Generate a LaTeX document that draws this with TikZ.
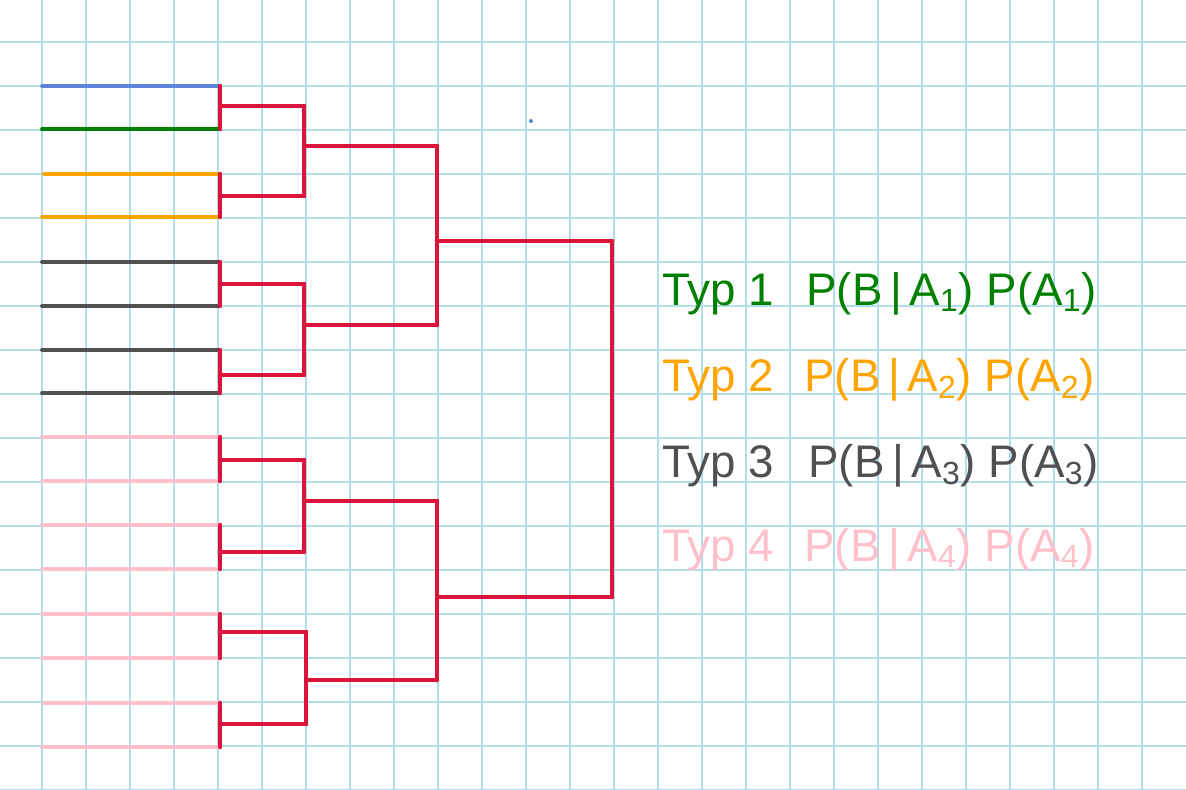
\documentclass[tikz,border=0pt]{standalone}
\usepackage{fontspec}
\setmainfont{Liberation Sans}
\definecolor{gridblue}{RGB}{178,222,236}
\definecolor{startblue}{RGB}{91,133,214}
\definecolor{typgreen}{RGB}{0,128,0}
\definecolor{typorange}{RGB}{255,165,0}
\definecolor{typgray}{RGB}{80,80,80}
\definecolor{typpink}{RGB}{255,192,203}
\definecolor{bracketred}{RGB}{220,20,60}
\tikzstyle{gridline} = [draw=gridblue, line width=0.03cm]
\tikzstyle{leaf} = [line width=0.075cm, line cap=round]
\tikzstyle{bracket} = [draw=bracketred, line width=0.09cm, line cap=round, line join=round]
\tikzstyle{legend} = [anchor=base west, inner sep=0pt, font=\fontsize{26}{30}\selectfont]

\begin{document}
\begin{tikzpicture}[x=0.02cm, y=-0.02cm]
    \useasboundingbox (0,0) rectangle (1186,789);
    \fill [white] (0,0) rectangle (1186,789);
    % Grid paper
    \foreach \i in {0,...,25} \draw [gridline] ({42+44*\i},0) -- ({42+44*\i},789);
    \foreach \j in {0,...,17} \draw [gridline] (0,{42+44*\j}) -- (1186,{42+44*\j});

    % Place nodes
    \coordinate (a1) at (42,86);   \coordinate (b1) at (220,86);
    \coordinate (a2) at (42,129);  \coordinate (b2) at (220,129);
    \coordinate (a3) at (44,174);  \coordinate (b3) at (220,174);
    \coordinate (a4) at (42,217);  \coordinate (b4) at (220,217);
    \coordinate (a5) at (42,262);  \coordinate (b5) at (220,262);
    \coordinate (a6) at (42,306);  \coordinate (b6) at (220,306);
    \coordinate (a7) at (42,350);  \coordinate (b7) at (220,350);
    \coordinate (a8) at (42,393);  \coordinate (b8) at (220,393);
    \coordinate (a9) at (42,437);  \coordinate (b9) at (220,437);
    \coordinate (a10) at (42,481); \coordinate (b10) at (220,481);
    \coordinate (a11) at (42,525); \coordinate (b11) at (220,525);
    \coordinate (a12) at (42,569); \coordinate (b12) at (220,569);
    \coordinate (a13) at (42,614); \coordinate (b13) at (220,614);
    \coordinate (a14) at (42,658); \coordinate (b14) at (220,658);
    \coordinate (a15) at (44,703); \coordinate (b15) at (220,703);
    \coordinate (a16) at (42,747); \coordinate (b16) at (220,747);

    \coordinate (j1) at (304,106);
    \coordinate (j2) at (304,196);
    \coordinate (j3) at (304,284);
    \coordinate (j4) at (304,375);
    \coordinate (j5) at (304,460);
    \coordinate (j6) at (304,552);
    \coordinate (j7) at (306,632);
    \coordinate (j8) at (306,724);

    \coordinate (k1) at (437,146);
    \coordinate (k2) at (437,325);
    \coordinate (k3) at (437,501);
    \coordinate (k4) at (437,680);

    \coordinate (r1) at (612,241);
    \coordinate (r2) at (612,597);

    \node [legend, text=typgreen] (typ1) at (662,305) {Typ 1};
    \node [legend, text=typgreen] (prob1) at (806,305) {P(B\,|\,A\textsubscript{1}) P(A\textsubscript{1})};
    \node [legend, text=typorange] (typ2) at (662,391) {Typ 2};
    \node [legend, text=typorange] (prob2) at (804,391) {P(B\,|\,A\textsubscript{2}) P(A\textsubscript{2})};
    \node [legend, text=typgray] (typ3) at (662,477) {Typ 3};
    \node [legend, text=typgray] (prob3) at (808,477) {P(B\,|\,A\textsubscript{3}) P(A\textsubscript{3})};
    \node [legend, text=typpink] (typ4) at (662,561) {Typ 4};
    \node [legend, text=typpink] (prob4) at (804,561) {P(B\,|\,A\textsubscript{4}) P(A\textsubscript{4})};

    \fill [startblue] (531,121) circle (2);

    % Draw edges
    \draw [leaf, startblue] (a1) -- (b1);
    \draw [leaf, typgreen] (a2) -- (b2);
    \draw [leaf, typorange] (a3) -- (b3);
    \draw [leaf, typorange] (a4) -- (b4);
    \draw [leaf, typgray] (a5) -- (b5);
    \draw [leaf, typgray] (a6) -- (b6);
    \draw [leaf, typgray] (a7) -- (b7);
    \draw [leaf, typgray] (a8) -- (b8);
    \draw [leaf, typpink] (a9) -- (b9);
    \draw [leaf, typpink] (a10) -- (b10);
    \draw [leaf, typpink] (a11) -- (b11);
    \draw [leaf, typpink] (a12) -- (b12);
    \draw [leaf, typpink] (a13) -- (b13);
    \draw [leaf, typpink] (a14) -- (b14);
    \draw [leaf, typpink] (a15) -- (b15);
    \draw [leaf, typpink] (a16) -- (b16);

    % first round
    \draw [bracket] (b1) -- (b2);   \draw [bracket] (b1 |- j1) -- (j1);
    \draw [bracket] (b3) -- (b4);   \draw [bracket] (b3 |- j2) -- (j2);
    \draw [bracket] (b5) -- (b6);   \draw [bracket] (b5 |- j3) -- (j3);
    \draw [bracket] (b7) -- (b8);   \draw [bracket] (b7 |- j4) -- (j4);
    \draw [bracket] (b9) -- (b10);  \draw [bracket] (b9 |- j5) -- (j5);
    \draw [bracket] (b11) -- (b12); \draw [bracket] (b11 |- j6) -- (j6);
    \draw [bracket] (b13) -- (b14); \draw [bracket] (b13 |- j7) -- (j7);
    \draw [bracket] (b15) -- (b16); \draw [bracket] (b15 |- j8) -- (j8);

    % second round
    \draw [bracket] (j1) -- (j2); \draw [bracket] (j1 |- k1) -- (k1);
    \draw [bracket] (j3) -- (j4); \draw [bracket] (j3 |- k2) -- (k2);
    \draw [bracket] (j5) -- (j6); \draw [bracket] (j5 |- k3) -- (k3);
    \draw [bracket] (j7) -- (j8); \draw [bracket] (j7 |- k4) -- (k4);

    % third round and final
    \draw [bracket] (k1) -- (k2); \draw [bracket] (k1 |- r1) -- (r1);
    \draw [bracket] (k3) -- (k4); \draw [bracket] (k3 |- r2) -- (r2);
    \draw [bracket] (r1) -- (r2);

\end{tikzpicture}
\end{document}
